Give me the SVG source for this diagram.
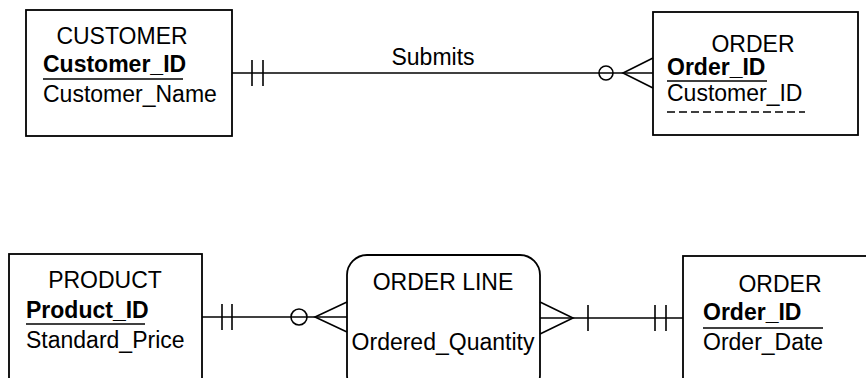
<svg xmlns="http://www.w3.org/2000/svg" width="866" height="378" viewBox="0 0 866 378">
<style>
.box{fill:#fff;stroke:#000;stroke-width:1.8}
.ln{fill:none;stroke:#000;stroke-width:1.6}
.t{font-family:"Liberation Sans",Arial,sans-serif;font-size:23px;fill:#000}
.b{font-weight:bold}
.c{text-anchor:middle}
</style>
<rect width="866" height="378" fill="#fff"/>
<g id="customer">
<rect class="box" x="26" y="10" width="206" height="126"/>
<text class="t c" x="122" y="44">CUSTOMER</text>
<text class="t b" x="43" y="72">Customer_ID</text>
<line class="ln" x1="43" y1="79" x2="183" y2="79"/>
<text class="t" x="43" y="102">Customer_Name</text>
</g>
<g id="order1">
<rect class="box" x="653" y="12" width="205" height="123"/>
<text class="t c" x="753" y="52">ORDER</text>
<text class="t b" x="667" y="75">Order_ID</text>
<line class="ln" x1="667" y1="81" x2="767" y2="81"/>
<text class="t" x="667" y="101">Customer_ID</text>
<line class="ln" x1="667" y1="112" x2="805" y2="112" stroke-dasharray="8,4"/>
</g>
<g id="product">
<rect class="box" x="9" y="254" width="193" height="140"/>
<text class="t c" x="105" y="288">PRODUCT</text>
<text class="t b" x="26" y="318">Product_ID</text>
<line class="ln" x1="26" y1="324" x2="145" y2="324"/>
<text class="t" x="26" y="348">Standard_Price</text>
</g>
<g id="orderline">
<rect class="box" x="347" y="255" width="193" height="140" rx="20"/>
<text class="t c" x="443" y="290">ORDER LINE</text>
<text class="t c" x="443" y="350">Ordered_Quantity</text>
</g>
<g id="order2">
<rect class="box" x="683" y="256" width="190" height="140"/>
<text class="t c" x="780" y="292">ORDER</text>
<text class="t b" x="703" y="320">Order_ID</text>
<line class="ln" x1="703" y1="328" x2="823" y2="328"/>
<text class="t" x="703" y="350">Order_Date</text>
</g>
<g id="connectors">
<line class="ln" x1="232" y1="73" x2="653" y2="73"/>
<line class="ln" x1="252" y1="60" x2="252" y2="86"/>
<line class="ln" x1="263" y1="60" x2="263" y2="86"/>
<text class="t c" x="433" y="65">Submits</text>
<circle class="ln" cx="606" cy="73" r="7" fill="#fff"/>
<path class="ln" d="M653,58 L623,73 L653,88"/>
<line class="ln" x1="202" y1="317" x2="347" y2="317"/>
<line class="ln" x1="222" y1="304" x2="222" y2="330"/>
<line class="ln" x1="232" y1="304" x2="232" y2="330"/>
<circle class="ln" cx="299" cy="317" r="8" fill="#fff"/>
<path class="ln" d="M347,302 L315,317 L347,332"/>
<line class="ln" x1="540" y1="318" x2="683" y2="318"/>
<path class="ln" d="M540,302 L573,318 L540,334"/>
<line class="ln" x1="588" y1="305" x2="588" y2="331"/>
<line class="ln" x1="655" y1="305" x2="655" y2="331"/>
<line class="ln" x1="666" y1="305" x2="666" y2="331"/>
</g>
</svg>
